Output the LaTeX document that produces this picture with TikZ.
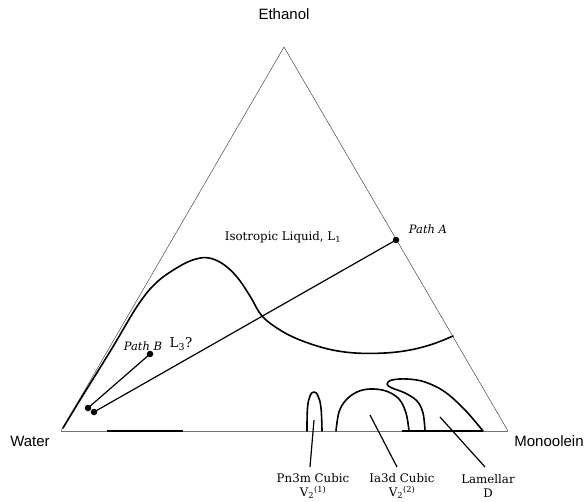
\documentclass[tikz,border=0pt]{standalone}
\usepackage{fontspec}
\setmainfont{DejaVu Serif}
\newfontfamily\labsans{Liberation Sans}
\begin{document}
\begin{tikzpicture}[x=1pt,y=-1pt,
  edge/.style={line width=0.5pt,draw=black!70},
  bound/.style={line width=1.6pt,line join=round,line cap=round},
  pathline/.style={line width=1.2pt},
  pointer/.style={line width=1.2pt},
  dot/.style={circle,fill=black,inner sep=0pt,minimum size=6.5pt},
  vlab/.style={font=\labsans\fontsize{15}{17}\selectfont},
  slab/.style={font=\fontsize{11.8}{14}\selectfont,inner sep=0pt},
  plab/.style={font=\itshape\fontsize{11.5}{13}\selectfont,inner sep=0pt}]
\useasboundingbox (0,0) rectangle (588,502);
% vertices
\coordinate (W) at (61,431);
\coordinate (M) at (508,431);
\coordinate (E) at (284,47);
\draw[edge] (W) -- (E) -- (M);
\draw[line width=0.6pt,draw=black!55] (W) -- (M);
\coordinate (ax1) at (107,431); \coordinate (ax2) at (183,431);
\coordinate (ax3) at (402,431); \coordinate (ax4) at (483,431);
\draw[line width=1.2pt] (ax1) -- (ax2);
\draw[line width=1.2pt] (ax3) -- (ax4);
% vertex labels
\node[vlab] (lE) at (284,14) {Ethanol};
\node[vlab] (lW) at (30,441) {Water};
\node[vlab] (lM) at (549,441) {Monoolein};
% L1 boundary
\draw[bound] plot[smooth,tension=0.6] coordinates {(63,428) (80,400) (111,350) (138,305) (157,282) (180,266) (196,259) (209,258) (223,264) (237,277) (250,296) (262,316) (280,330) (300,340) (328,349) (355,353) (385,353) (410,350) (433,344) (453,336)};
% paths
\node[dot] (PA) at (396,240) {};
\node[dot] (PB) at (150,354) {};
\node[dot] (D1) at (88,408) {};
\node[dot] (D2) at (94,412) {};
\draw[pathline] (D2.center) -- (PA.center);
\draw[pathline] (D1.center) -- (PB.center);
\node[plab] (lPA) at (428,229) {Path A};
\node[plab] (lPB) at (143,346) {Path B};
\node[slab,font=\fontsize{13.5}{15}\selectfont] (lL3) at (181,344) {L\textsubscript{3}?};
\node[slab] (lL1) at (283,237) {Isotropic Liquid, L\textsubscript{1}};
% phases
\draw[bound] plot[smooth,tension=0.7] coordinates {(307,431) (307.5,408) (310,396) (314,392) (318,396) (321,408) (322,431)};
\draw[bound] plot[smooth,tension=0.6] coordinates {(336,431) (339,412) (346,400) (357,392) (370,389) (386,391) (399,399) (406,413) (409,431)};
\draw[bound] plot[smooth,tension=0.6] coordinates {(425,431) (423,413) (417,401) (405,393) (392,388) (387,384) (392,380) (407,379) (425,382) (445,392) (465,410) (483,431)};
% pointers and labels
\coordinate (p1a) at (314,420); \coordinate (p1b) at (310,467);
\coordinate (p2a) at (370,415); \coordinate (p2b) at (397,467);
\coordinate (p3a) at (440,417); \coordinate (p3b) at (485,467);
\draw[pointer] (p1a) -- (p1b);
\draw[pointer] (p2a) -- (p2b);
\draw[pointer] (p3a) -- (p3b);
\node[slab,align=center] (lP) at (313,486) {Pn3m Cubic\\V\textsubscript{2}\textsuperscript{(1)}};
\node[slab,align=center] (lI) at (402,486) {Ia3d Cubic\\V\textsubscript{2}\textsuperscript{(2)}};
\node[slab,align=center] (lD) at (488,486) {Lamellar\\D};
\end{tikzpicture}
\end{document}
